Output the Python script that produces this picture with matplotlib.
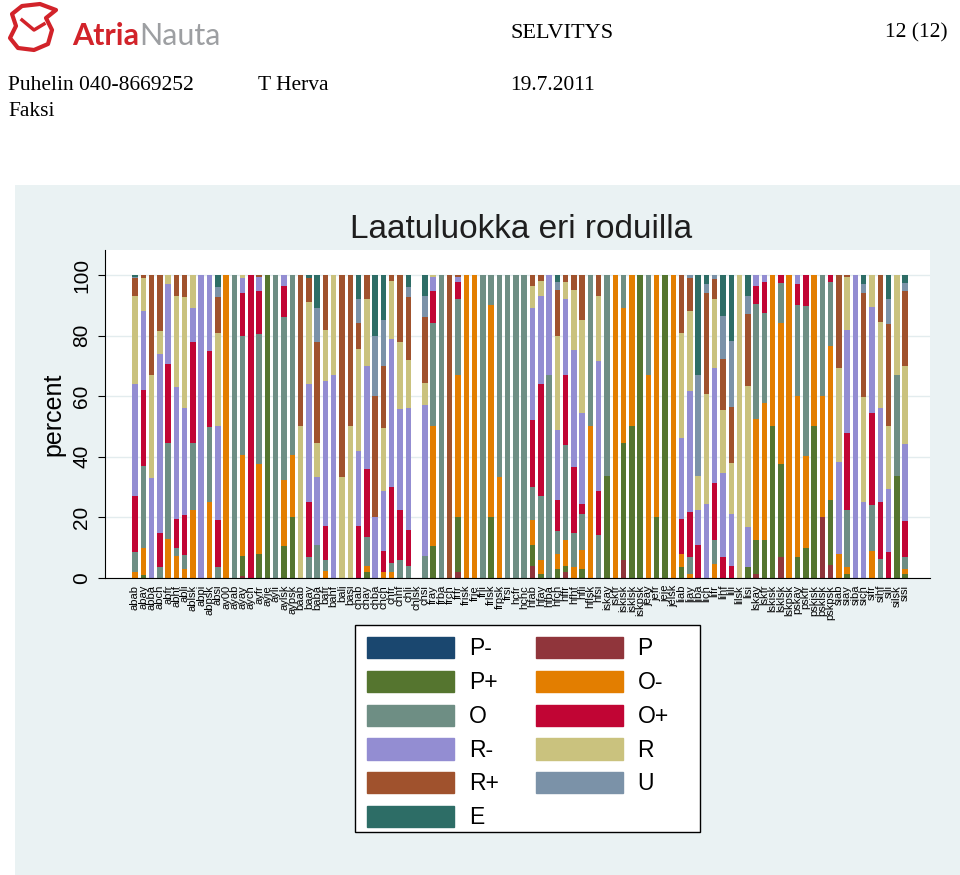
import numpy as np
import matplotlib
matplotlib.use('Agg')
import matplotlib.pyplot as plt
from matplotlib.patches import Patch, Rectangle, Polygon

plt.rcParams['font.family'] = ['Liberation Sans', 'DejaVu Sans']

# breed combinations (x axis)
breeds = ['abab', 'abay', 'abba', 'abch', 'abfr', 'abhf', 'abli', 'ablsk', 'abpi', 'abpsk',
          'absi', 'ay00', 'ayab', 'ayay', 'aych', 'ayfr', 'ayje', 'ayli', 'aylsk', 'aypsk',
          'baab', 'baay', 'baba', 'bafr', 'bahf', 'bali', 'basi', 'chab', 'chay', 'chba',
          'chch', 'chfr', 'chhf', 'chli', 'chlsk', 'chsi', 'fray', 'frba', 'frch', 'frfr',
          'frisk', 'frje', 'frli', 'frlsk', 'frpsk', 'frsi', 'hcfr', 'hchc', 'hfab', 'hfay',
          'hfba', 'hfch', 'hffr', 'hfhf', 'hfli', 'hflsk', 'hfsi', 'iskay', 'iskfr', 'iskisk',
          'isklsk', 'iskpsk', 'jeay', 'jefr', 'jeje', 'jelsk', 'liab', 'liay', 'liba', 'lich',
          'lifr', 'lihf', 'lili', 'lilsk', 'lisi', 'lskay', 'lskfr', 'lskisk', 'lsklsk', 'lskpsk',
          'pskay', 'pskfr', 'pskisk', 'psklsk', 'pskpsk', 'siab', 'siay', 'siba', 'sich', 'sifr',
          'sihf', 'sili', 'silsk', 'sisi']

# percent of each quality class, one list per class
p_minus = [0, 0, 0, 0, 0, 0, 0, 0, 0, 0,
           0, 0, 0, 0, 0, 0, 0, 0, 0, 0,
           0, 0, 0, 0, 0, 0, 0, 0, 0, 0,
           0, 0, 0, 0, 0, 0, 0, 0, 0, 0,
           0, 0, 0, 0, 0, 0, 0, 0, 0, 0,
           0, 0, 0, 0, 0, 0, 0, 0, 0, 0,
           0, 0, 0, 0, 0, 0, 0, 0, 0, 0,
           0, 0, 0, 0, 0, 0, 0, 0, 0, 0,
           0, 0, 0, 0, 0, 0, 0, 0, 0, 0,
           0, 0, 0, 0]
p = [0, 0, 0, 0, 0, 0, 0, 0, 0, 0,
     0, 0, 0, 0.8, 0, 0, 0, 0, 0, 0,
     0, 0, 0, 0, 0, 0, 0, 0, 0, 0,
     0, 0, 0, 0, 0, 0, 0, 0, 0, 2,
     0, 0, 0, 0, 0, 0, 0, 0, 4, 0,
     0, 0, 2, 0, 0, 0, 0, 0, 0, 5.8,
     0, 0, 0, 0, 0, 0, 0, 0, 0, 0,
     0, 0, 0, 0, 0, 1.3, 0, 0, 6.9, 0,
     0, 0, 0, 20, 4.4, 0, 0, 0, 0, 0,
     0, 0, 0, 0]
p_plus = [0, 1, 0, 0, 0, 0, 0, 0, 0, 0,
          0, 0, 0, 6.6, 0, 8, 100, 0, 10.7, 20,
          0, 0, 0, 0, 0, 0, 0, 0, 2, 0,
          0, 0, 0, 0, 0, 0, 10.4, 0, 0, 18,
          0, 0, 0, 20, 0, 0, 0, 0, 7, 1.3,
          0, 3, 2, 0, 3, 0, 0, 33.6, 0, 38.7,
          50, 100, 0, 20, 100, 0, 3.7, 0, 0, 0,
          0, 0, 0, 0, 3.5, 11.1, 12.7, 50, 30.7, 0,
          6.9, 9.8, 50, 0, 21.3, 0, 1.3, 0, 0, 0,
          0, 0, 33.6, 1.3]
o_minus = [2, 9, 0, 0, 13, 7.4, 3, 22.5, 0, 25,
           0, 100, 0, 33.2, 0, 29.5, 0, 0, 21.6, 20.6,
           0, 0, 0, 2.4, 0, 0, 0, 0, 2, 0,
           2, 2, 0, 0, 0, 0, 39.6, 0, 0, 47,
           100, 100, 0, 70, 33.4, 0, 0, 0, 8, 4.5,
           0, 5, 8.7, 3.5, 6.3, 50, 0, 0, 100, 44.5,
           50, 0, 67, 80, 0, 100, 4.3, 1.3, 0, 0,
           4.6, 0, 0, 0, 0, 40, 45, 50, 46.7, 100,
           53.3, 30.5, 50, 40.2, 50.8, 8, 2.2, 0, 0, 8.8,
           0, 0, 0, 1.7]
o = [6.5, 27, 0, 3.5, 31.5, 2.6, 4.6, 22, 0, 24.7,
     3.5, 0, 100, 39.4, 0, 42.9, 0, 100, 53.7, 59.4,
     0, 7, 11, 3.4, 0, 0, 0, 0, 9.5, 0,
     0, 3, 5.8, 4, 0, 7.4, 34.3, 100, 0, 25,
     0, 0, 100, 10, 66.6, 100, 100, 100, 11, 21.2,
     67, 7.5, 31.3, 11.5, 11.9, 50, 14.3, 66.4, 0, 11,
     0, 0, 33, 0, 0, 0, 0, 5.7, 0, 0,
     8.1, 0, 0, 0, 0, 38, 29.9, 0, 13, 0,
     29.8, 49.5, 0, 39.8, 21.3, 0, 19.1, 0, 0, 15.2,
     6.3, 0, 33.4, 4]
o_plus = [18.5, 25, 0, 11.5, 26, 9.6, 13.1, 33.5, 0, 25.3,
          15.5, 0, 0, 14, 100, 14.4, 0, 0, 10.5, 0,
          0, 18, 0, 11.2, 0, 0, 0, 17, 22.5, 0,
          7, 25, 16.5, 12, 0, 0, 10.5, 0, 0, 5.6,
          0, 0, 0, 0, 0, 0, 0, 0, 22, 37,
          0, 10.2, 23, 21.5, 3.2, 0, 14.3, 0, 0, 0,
          0, 0, 0, 0, 0, 0, 11.4, 14.8, 11, 0,
          18.5, 7, 4, 0, 0, 6.1, 10, 0, 2.7, 0,
          7, 10.2, 0, 0, 2.2, 0, 25.4, 0, 0, 30.4,
          18.7, 8.5, 0, 11.7]
r_minus = [37, 26, 33, 59, 26.5, 43.4, 35.3, 11, 100, 25,
           31, 0, 0, 5, 0, 4.6, 0, 0, 3.5, 0,
           0, 39, 22.4, 48, 67, 0, 0, 25, 34, 20,
           19.6, 49, 33.4, 40, 0, 49.6, 4.4, 0, 0, 1.6,
           0, 0, 0, 0, 0, 0, 0, 0, 37, 29,
           33, 23.3, 25, 38.9, 30.2, 0, 43, 0, 0, 0,
           0, 0, 0, 0, 0, 0, 26.9, 39.8, 11.3, 24.3,
           38.2, 27.5, 17, 0, 13.3, 3.5, 2.4, 0, 0, 0,
           3, 0, 0, 0, 0, 30.4, 34, 100, 25, 34.9,
           31, 20.8, 0, 25.5]
r = [29, 11, 34, 7.5, 3, 30, 36.6, 11, 0, 0,
     30.7, 0, 0, 1, 0, 0, 0, 0, 0, 0,
     50, 27, 11.1, 17, 33, 33.4, 50, 33.5, 22, 0,
     20.8, 19, 22.3, 16, 0, 7.4, 0.8, 0, 0, 0,
     0, 0, 0, 0, 0, 0, 0, 0, 7.5, 5,
     0, 31, 5.8, 19.6, 30.4, 0, 21.4, 0, 0, 0,
     0, 0, 0, 0, 0, 0, 34.4, 26.4, 11.3, 36.4,
     22.6, 20.8, 17, 100, 46.7, 0, 0, 0, 0, 0,
     0, 0, 0, 0, 0, 31, 17.2, 0, 34.6, 10.7,
     28.5, 20.7, 33, 25.8]
r_plus = [6, 1, 33, 18.5, 0, 7, 7.4, 0, 0, 0,
          12.1, 0, 0, 0, 0, 0.6, 0, 0, 0, 0,
          50, 8, 33.5, 18, 0, 66.6, 50, 8.5, 8, 40,
          20.6, 2, 22, 20.6, 0, 21.6, 0, 0, 100, 0.8,
          0, 0, 0, 0, 0, 0, 0, 0, 3.5, 2,
          0, 15, 2.2, 5, 15, 0, 7, 0, 0, 0,
          0, 0, 0, 0, 0, 0, 19.3, 11, 0, 33.3,
          6.7, 17, 18.3, 0, 23.5, 0, 0, 0, 0, 0,
          0, 0, 0, 0, 0, 30.6, 0.8, 0, 34.4, 0,
          15.5, 33.7, 0, 24.8]
u = [0.5, 0, 0, 0, 0, 0, 0, 0, 0, 0,
     3.2, 0, 0, 0, 0, 0, 0, 0, 0, 0,
     0, 0, 11, 0, 0, 0, 0, 8, 0, 20,
     15, 0, 0, 3.4, 0, 7, 0, 0, 0, 0,
     0, 0, 0, 0, 0, 0, 0, 0, 0, 0,
     0, 2.6, 0, 0, 0, 0, 0, 0, 0, 0,
     0, 0, 0, 0, 0, 0, 0, 1, 33.4, 3,
     1.3, 14.2, 21.9, 0, 6, 0, 0, 0, 0, 0,
     0, 0, 0, 0, 0, 0, 0, 0, 3, 0,
     0, 8.3, 0, 2.5]
e = [0.5, 0, 0, 0, 0, 0, 0, 0, 0, 0,
     4, 0, 0, 0, 0, 0, 0, 0, 0, 0,
     0, 1, 11, 0, 0, 0, 0, 8, 0, 20,
     15, 0, 0, 4, 0, 7, 0, 0, 0, 0,
     0, 0, 0, 0, 0, 0, 0, 0, 0, 0,
     0, 2.4, 0, 0, 0, 0, 0, 0, 0, 0,
     0, 0, 0, 0, 0, 0, 0, 0, 33, 3,
     0, 13.5, 21.8, 0, 7, 0, 0, 0, 0, 0,
     0, 0, 0, 0, 0, 0, 0, 0, 3, 0,
     0, 8, 0, 2.7]

classes = ['P-', 'P', 'P+', 'O-', 'O', 'O+', 'R-', 'R', 'R+', 'U', 'E']
series = [p_minus, p, p_plus, o_minus, o, o_plus, r_minus, r, r_plus, u, e]
# stata s2color palette
colors = ['#1a476f', '#90353b', '#55752f', '#e37e00', '#6e8e84', '#c10534',
          '#938dd2', '#cac27e', '#a0522d', '#7b92a8', '#2d6d66']

fig = plt.figure(figsize=(9.6, 8.75), dpi=100)

# page layer in pixel coordinates: header + graph region background
page = fig.add_axes([0, 0, 1, 1], zorder=-1)
page.set_xlim(0, 960)
page.set_ylim(875, 0)
page.axis('off')
page.add_patch(Rectangle((15, 185), 945, 690, color='#eaf2f3', lw=0))

# logo
page.add_patch(Polygon([(12, 14), (22, 6), (40, 4), (56, 10), (46, 18), (52, 30),
                        (48, 44), (34, 50), (18, 48), (10, 38), (16, 26)],
                       closed=True, fill=False, ec='#d2232a', lw=3, joinstyle='round'))
page.plot([22, 34, 44], [20, 30, 24], color='#d2232a', lw=2.5)
atria = page.text(72, 36, 'Atria', color='#d2232a', fontsize=22, family='Lato',
                  weight='bold', va='center')
page.annotate('Nauta', xy=(1, 0.5), xycoords=atria, va='center', ha='left',
              color='#9d9fa2', fontsize=22, family='Lato')

serif = dict(family='Liberation Serif', color='black', va='center')
page.text(510, 33, 'SELVITYS', fontsize=16, **serif)
page.text(948, 33, '12 (12)', fontsize=15.5, ha='right', **serif)
page.text(8, 85, 'Puhelin 040-8669252', fontsize=15.5, **serif)
page.text(258, 85, 'T Herva', fontsize=15.5, **serif)
page.text(510, 85, '19.7.2011', fontsize=15.5, **serif)
page.text(8, 112, 'Faksi', fontsize=15.5, **serif)

page.text(521, 230, 'Laatuluokka eri roduilla', fontsize=24, ha='center', va='center',
          color='#1e1e1e')

# legend box (stata draws it wider than its contents)
page.add_patch(Rectangle((355, 625), 345, 207, facecolor='white', edgecolor='black', lw=1))

# stacked bars
ax = fig.add_axes([105 / 960, 1 - 578 / 875, 825 / 960, 328 / 875])
ax.set_facecolor('white')
x = np.arange(len(breeds))
bottom = np.zeros(len(breeds))
for name, vals, col in zip(classes, series, colors):
    vals = np.array(vals, dtype=float)
    ax.bar(x, vals, 0.66, bottom=bottom, color=col, lw=0, label=name)
    bottom += vals

ax.set_xlim(-3.62, 96.0)
ax.set_ylim(0, 108.25)
ax.set_yticks([0, 20, 40, 60, 80, 100])
ax.tick_params(axis='y', labelsize=15, labelrotation=90, length=5, pad=5)
for lbl in ax.get_yticklabels():
    lbl.set_va('center')
ax.set_xticks(x)
ax.set_xticklabels(breeds, rotation=90, fontsize=8,
                   family=['Liberation Sans Narrow', 'Liberation Sans'])
ax.tick_params(axis='x', length=0, pad=5)
ax.set_ylabel('percent', fontsize=18, labelpad=5)
ax.grid(axis='y', color='#e3ecee', lw=1)
ax.set_axisbelow(True)
for side in ['top', 'right']:
    ax.spines[side].set_visible(False)
ax.spines['bottom'].set_color('black')
ax.spines['left'].set_color('black')

# legend: two columns, stata row order
order = [0, 2, 4, 6, 8, 10, 1, 3, 5, 7, 9]
handles = [Patch(color=colors[i]) for i in order]
labels = [classes[i] for i in order]
fig.legend(handles, labels, ncol=2, loc='upper left',
           bbox_to_anchor=(367 / 960, 1 - 637 / 875), bbox_transform=fig.transFigure,
           fontsize=16.5, handlelength=3.8, handleheight=1.05, labelspacing=0.45,
           handletextpad=0.65, columnspacing=1.6, borderpad=0, borderaxespad=0,
           frameon=False)

fig.savefig('out.png', dpi=100, facecolor='white')
